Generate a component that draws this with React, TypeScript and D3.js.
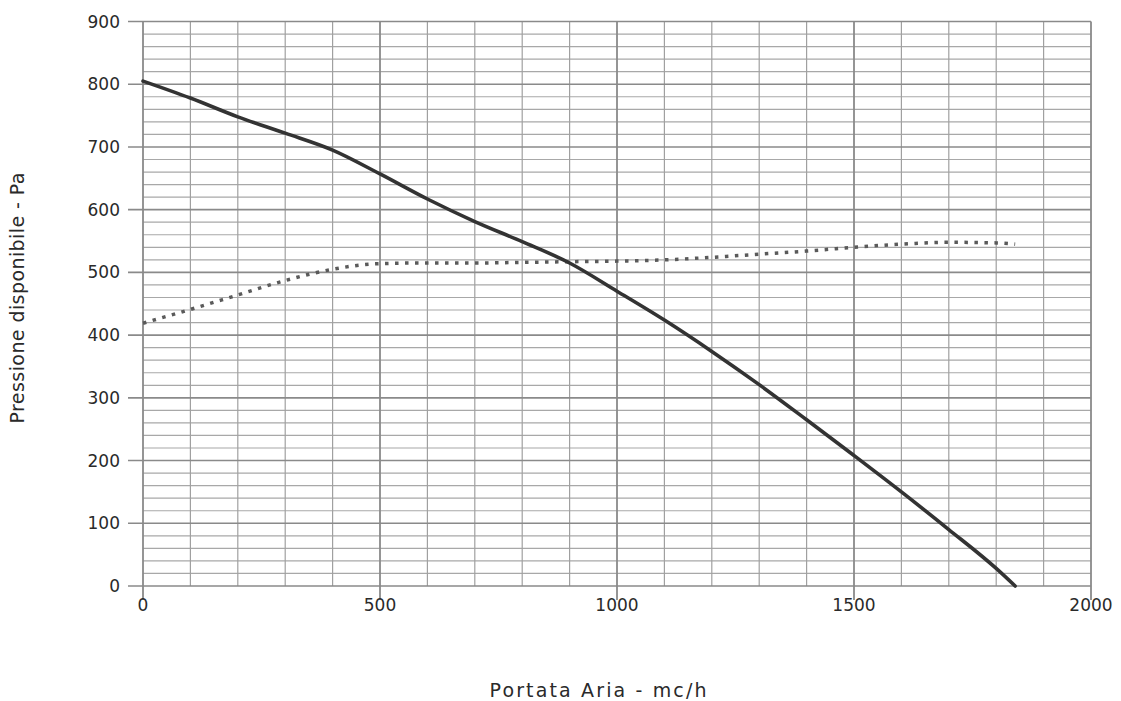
import React from "react";
import * as d3 from "d3";

const flowSolid = [0, 100, 200, 300, 400, 500, 600, 700, 800, 900, 1000, 1100, 1200, 1300, 1400, 1500, 1600, 1700, 1800, 1840];
const pressSolid = [805, 778, 748, 722, 695, 657, 617, 581, 549, 515, 470, 424, 374, 321, 265, 208, 150, 90, 28, 0];

const flowDotted = [0, 100, 200, 300, 400, 500, 600, 700, 800, 900, 1000, 1100, 1200, 1300, 1400, 1500, 1600, 1700, 1800, 1840];
const pressDotted = [419, 441, 464, 487, 505, 514, 515, 515, 516, 517, 518, 520, 524, 529, 534, 540, 545, 548, 547, 545];

const xTicks = [0, 500, 1000, 1500, 2000];
const yTicks = [0, 100, 200, 300, 400, 500, 600, 700, 800, 900];

const xTitle = "Portata Aria - mc/h";
const yTitle = "Pressione disponibile - Pa";

export default function App() {
  const W = 1121, H = 701;
  const x = d3.scaleLinear().domain([0, 2000]).range([143, 1091]);
  const y = d3.scaleLinear().domain([0, 900]).range([586, 21.5]);
  const font = "'DejaVu Sans', 'Open Sans', sans-serif";

  const minorY = d3.range(0, 901, 20);
  const vLines = d3.range(0, 2001, 100);

  const line = d3
    .line<[number, number]>()
    .x((d) => x(d[0]))
    .y((d) => y(d[1]))
    .curve(d3.curveMonotoneX);

  const solid = line(flowSolid.map((f, i) => [f, pressSolid[i]] as [number, number])) || "";
  const dotted = line(flowDotted.map((f, i) => [f, pressDotted[i]] as [number, number])) || "";

  return (
    <svg width={W} height={H} style={{ position: "absolute", left: 0, top: 0, background: "#fff" }}>
      {/* horizontal minor grid */}
      {minorY.filter((v) => v % 100 !== 0).map((v) => (
        <line key={"hm" + v} x1={x(0)} x2={x(2000)} y1={y(v)} y2={y(v)} stroke="#a8a8a8" strokeWidth={1.2} />
      ))}
      {/* vertical grid */}
      {vLines.map((v) => (
        <line
          key={"v" + v}
          x1={x(v)}
          x2={x(v)}
          y1={y(900)}
          y2={v % 500 === 0 ? y(0) + 14 : y(0)}
          stroke={v % 500 === 0 ? "#8a8a8a" : "#a0a0a0"}
          strokeWidth={v % 500 === 0 ? 1.8 : 1.2}
        />
      ))}
      {/* horizontal major grid */}
      {yTicks.map((v) => (
        <line key={"hM" + v} x1={x(0) - 15} x2={x(2000)} y1={y(v)} y2={y(v)} stroke="#8a8a8a" strokeWidth={1.6} />
      ))}

      {/* curves */}
      <path d={dotted} fill="none" stroke="#5a5a5a" strokeWidth={3.5} strokeDasharray="3.5 6.5" />
      <path d={solid} fill="none" stroke="#333" strokeWidth={3.6} strokeLinecap="round" />

      {/* y tick labels */}
      {yTicks.map((v) => (
        <text key={"yl" + v} x={120} y={y(v) + 6} textAnchor="end" fontFamily={font} fontSize={17} fill="#2a2a2a">
          {v}
        </text>
      ))}
      {/* x tick labels */}
      {xTicks.map((v) => (
        <text key={"xl" + v} x={x(v)} y={611} textAnchor="middle" fontFamily={font} fontSize={17} fill="#2a2a2a">
          {v}
        </text>
      ))}

      <text
        x={598}
        y={697}
        textAnchor="middle"
        fontFamily={font}
        fontSize={19}
        fill="#2a2a2a"
        textLength={217}
        lengthAdjust="spacing"
      >
        {xTitle}
      </text>
      <text
        transform={`translate(24, 298) rotate(-90)`}
        textAnchor="middle"
        fontFamily={font}
        fontSize={19}
        fill="#2a2a2a"
        textLength={251}
        lengthAdjust="spacing"
      >
        {yTitle}
      </text>
    </svg>
  );
}
